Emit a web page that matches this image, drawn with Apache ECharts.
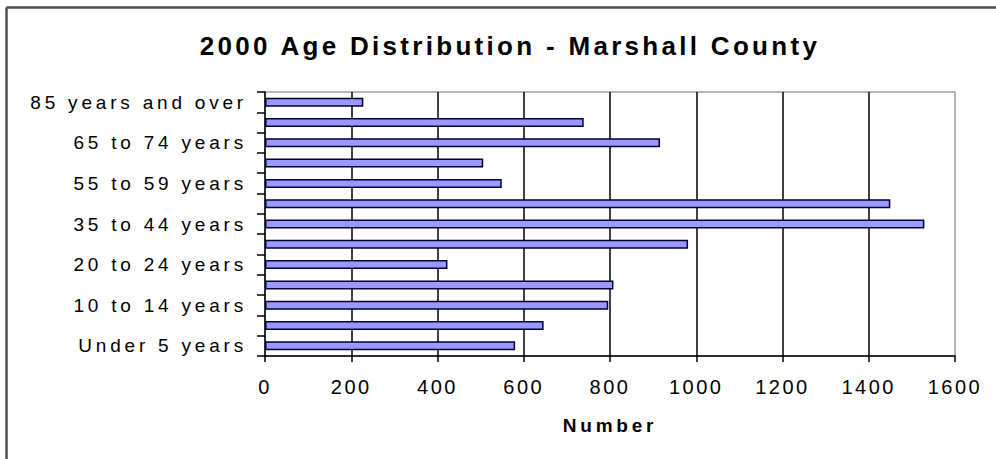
<!DOCTYPE html>
<html>
<head>
<meta charset="utf-8">
<title>2000 Age Distribution - Marshall County</title>
<script src="https://cdn.jsdelivr.net/npm/echarts@6/dist/echarts.min.js"></script>
<style>
  html, body { margin: 0; padding: 0; background: #fff; }
  #chart { width: 996px; height: 459px; }
  /* the old chart spreads its letters out */
  #chart text[style*="26px"] { letter-spacing: 3.3px; }
  #chart text[style*="19px"] { letter-spacing: 3.8px; }
  #chart text[style*="20px"] { letter-spacing: 2.5px; }
</style>
</head>
<body>
<div id="chart"></div>
<script>
const ageGroups = [
  'Under 5 years', '5 to 9 years', '10 to 14 years', '15 to 19 years',
  '20 to 24 years', '25 to 34 years', '35 to 44 years', '45 to 54 years',
  '55 to 59 years', '60 to 64 years', '65 to 74 years', '75 to 84 years',
  '85 years and over'
]
const population = [580, 646, 796, 808, 423, 981, 1529, 1450, 549, 506, 916, 739, 228]
const numberTicks = [0, 200, 400, 600, 800, 1000, 1200, 1400, 1600]

const font = '"Liberation Sans", Arial, sans-serif'
const chart = echarts.init(document.getElementById('chart'), null, { renderer: 'svg' })

chart.setOption({
  animation: false,
  backgroundColor: '#fff',
  title: {
    text: '2000 Age Distribution - Marshall County',
    left: 505,
    textAlign: 'center',
    top: 28,
    textStyle: { fontFamily: font, fontSize: 26, fontWeight: 'bold', color: '#000' }
  },
  graphic: [
    { type: 'line', shape: { x1: 6.5, y1: 7.5, x2: 996, y2: 7.5 }, style: { stroke: '#505050', lineWidth: 2.5 } },
    { type: 'line', shape: { x1: 6.5, y1: 7.5, x2: 6.5, y2: 459 }, style: { stroke: '#505050', lineWidth: 2.5 } }
  ],
  grid: {
    left: 265,
    right: 41,
    top: 92,
    bottom: 103,
    show: true,
    borderColor: '#a0a0a0',
    borderWidth: 1.5
  },
  xAxis: {
    type: 'value',
    min: numberTicks[0],
    max: numberTicks[numberTicks.length - 1],
    interval: numberTicks[1] - numberTicks[0],
    name: 'Number',
    nameLocation: 'middle',
    nameGap: 60,
    nameTextStyle: { fontFamily: font, fontSize: 19, fontWeight: 'bold', color: '#000' },
    axisLine: { show: true, lineStyle: { color: '#000', width: 1.5 } },
    axisTick: { show: true, length: 6, lineStyle: { color: '#000', width: 1.5 } },
    axisLabel: {
      margin: 21,
      fontFamily: font,
      fontSize: 20,
      color: '#000',
      formatter: (v) => String(v)
    },
    splitLine: { show: true, showMinLine: false, showMaxLine: false, lineStyle: { color: '#000', width: 1.5 } }
  },
  yAxis: {
    type: 'category',
    data: ageGroups,
    axisLine: { show: true, lineStyle: { color: '#000', width: 1.5 } },
    axisTick: { show: true, length: 8, interval: 0, lineStyle: { color: '#000', width: 1.5 } },
    axisLabel: { interval: 1, margin: 18, fontFamily: font, fontSize: 19, color: '#000' },
    splitLine: { show: false }
  },
  series: [{
    type: 'bar',
    data: population,
    barWidth: 9,
    itemStyle: { color: '#9999ff', borderColor: '#000033', borderWidth: 1.5 }
  }]
})
</script>
</body>
</html>
